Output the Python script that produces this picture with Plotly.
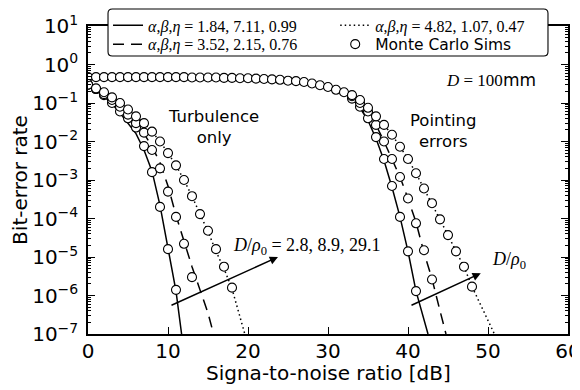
import plotly.graph_objects as go

# ---------------- data ----------------
# Turbulence-only group: Monte Carlo points
turb_mc_x_solid = [0, 1, 2, 3, 4, 5, 6, 7, 8, 9, 10, 11]
turb_mc_solid = [0.30, 0.23, 0.16, 0.10, 0.060, 0.040, 0.023, 0.0076, 0.0016, 2.0e-4, 1.6e-5, 1.4e-6]
turb_mc_x_dashed = [0, 1, 2, 3, 4, 5, 6, 7, 8, 9, 10, 11, 12, 13]
turb_mc_dashed = [0.30, 0.23, 0.17, 0.12, 0.080, 0.050, 0.030, 0.017, 0.006, 0.002, 5.0e-4, 1.1e-4, 2.2e-5, 3.0e-6]
turb_mc_x_dotted = [0, 1, 2, 3, 4, 5, 6, 7, 8, 9, 10, 11, 12, 13, 14, 15, 16, 17, 18]
turb_mc_dotted = [0.30, 0.24, 0.19, 0.14, 0.10, 0.068, 0.045, 0.030, 0.018, 0.010, 0.005, 0.0024,
                  0.0010, 3.8e-4, 1.3e-4, 4.8e-5, 1.6e-5, 5.6e-6, 1.6e-6]

# Turbulence-only group: analytical curves
turb_line_x_solid = [0, 1, 2, 3, 4, 5, 6, 7, 8, 9, 10, 11, 11.7]
turb_line_solid = [0.30, 0.22, 0.15, 0.095, 0.055, 0.030, 0.016, 0.006, 0.0017, 2.2e-4, 1.7e-5, 1.3e-6, 1e-7]
turb_line_x_dashed = [0, 1, 2, 3, 4, 5, 6, 7, 8, 9, 10, 11, 12, 13, 14, 15, 15.7]
turb_line_dashed = [0.30, 0.23, 0.17, 0.12, 0.080, 0.050, 0.030, 0.016, 0.0075, 0.0028, 7.0e-4, 1.2e-4,
                    2.5e-5, 5.6e-6, 1.4e-6, 3.5e-7, 1e-7]
turb_line_x_dotted = [0, 1, 2, 3, 4, 5, 6, 7, 8, 9, 10, 11, 12, 13, 14, 15, 16, 17, 18, 19, 19.6]
turb_line_dotted = [0.30, 0.24, 0.19, 0.14, 0.10, 0.068, 0.045, 0.030, 0.018, 0.010, 0.005, 0.0024,
                    0.0010, 3.8e-4, 1.3e-4, 4.6e-5, 1.4e-5, 5.0e-6, 1.5e-6, 2.5e-7, 1e-7]

# Pointing-error group: shared flat head (all three series coincide)
pe_head_x = list(range(0, 33))
pe_head = [0.47, 0.47, 0.47, 0.47, 0.47, 0.47, 0.47, 0.47, 0.47, 0.47, 0.47, 0.47, 0.47,
           0.46, 0.46, 0.46, 0.46, 0.45, 0.45, 0.44, 0.44, 0.43, 0.42, 0.41, 0.40, 0.38,
           0.37, 0.35, 0.32, 0.29, 0.26, 0.22, 0.19]

# Pointing-error group: Monte Carlo tails
pe_mc_x_solid = [33, 34, 35, 36, 37, 38, 39, 40, 41]
pe_mc_solid = [0.13, 0.080, 0.040, 0.013, 3.5e-3, 7.0e-4, 1.1e-4, 1.4e-5, 1.3e-6]
pe_mc_x_dashed = [33, 34, 35, 36, 37, 38, 39, 40, 41, 42, 43]
pe_mc_dashed = [0.15, 0.10, 0.060, 0.027, 0.010, 3.5e-3, 1.2e-3, 3.3e-4, 7.5e-5, 1.5e-5, 2.6e-6]
pe_mc_x_dotted = [33, 34, 35, 36, 37, 38, 39, 40, 41, 42, 43, 44, 45, 46, 47, 48]
pe_mc_dotted = [0.16, 0.12, 0.075, 0.045, 0.027, 0.015, 7.3e-3, 3.5e-3, 1.5e-3, 6.0e-4, 2.5e-4,
                9.5e-5, 3.7e-5, 1.4e-5, 5.6e-6, 1.7e-6]

# Pointing-error group: analytical tails
pe_line_x_solid = [33, 34, 35, 36, 37, 38, 39, 40, 41, 42, 42.5]
pe_line_solid = [0.13, 0.075, 0.035, 0.012, 3.2e-3, 6.5e-4, 1.1e-4, 1.4e-5, 1.3e-6, 2.2e-7, 1e-7]
pe_line_x_dashed = [33, 34, 35, 36, 37, 38, 39, 40, 41, 42, 43, 44, 44.75]
pe_line_dashed = [0.15, 0.10, 0.060, 0.027, 0.010, 3.5e-3, 1.2e-3, 3.3e-4, 8.0e-5, 1.3e-5, 2.7e-6, 4.0e-7, 1e-7]
pe_line_x_dotted = [33, 34, 35, 36, 37, 38, 39, 40, 41, 42, 43, 44, 45, 46, 47, 48, 49, 50, 50.8]
pe_line_dotted = [0.16, 0.12, 0.075, 0.045, 0.027, 0.015, 7.3e-3, 3.5e-3, 1.5e-3, 6.0e-4, 2.5e-4,
                  9.5e-5, 3.7e-5, 1.4e-5, 5.6e-6, 1.7e-6, 6.3e-7, 2.4e-7, 1e-7]

legend_labels = ["<i>α</i>,<i>β</i>,<i>η</i> = 1.84, 7.11, 0.99",
                 "<i>α</i>,<i>β</i>,<i>η</i> = 4.82, 1.07, 0.47",
                 "<i>α</i>,<i>β</i>,<i>η</i> = 3.52, 2.15, 0.76",
                 "<span style=\"font-family:'DejaVu Sans';font-size:15.5px\">Monte Carlo Sims</span>"]

y_tick_exps = [-7, -6, -5, -4, -3, -2, -1, 0, 1]
x_ticks = [0, 10, 20, 30, 40, 50, 60]
x_title = "Signa-to-noise ratio [dB]"
y_title = "Bit-error rate"

# ---------------- figure ----------------
SANS = "DejaVu Sans"
SERIF = "Liberation Serif"

fig = go.Figure()

line_specs = [
    (turb_line_x_solid, turb_line_solid, pe_line_x_solid, pe_line_solid, "solid", legend_labels[0], "legend"),
    (turb_line_x_dotted, turb_line_dotted, pe_line_x_dotted, pe_line_dotted, "1.5px,3px", legend_labels[1], "legend2"),
    (turb_line_x_dashed, turb_line_dashed, pe_line_x_dashed, pe_line_dashed, "11px,7px", legend_labels[2], "legend3"),
]
for tx, ty, px_, py_, dash, name, leg in line_specs:
    x = list(tx) + [None] + pe_head_x + list(px_)
    y = list(ty) + [None] + pe_head + list(py_)
    fig.add_trace(go.Scatter(x=x, y=y, mode="lines", name=name, legend=leg,
                             line=dict(color="black", width=1.5, dash=dash),
                             connectgaps=False, hoverinfo="skip"))

mc_x = (turb_mc_x_solid + turb_mc_x_dashed + turb_mc_x_dotted + pe_head_x
        + pe_mc_x_solid + pe_mc_x_dashed + pe_mc_x_dotted)
mc_y = (turb_mc_solid + turb_mc_dashed + turb_mc_dotted + pe_head
        + pe_mc_solid + pe_mc_dashed + pe_mc_dotted)
fig.add_trace(go.Scatter(x=mc_x, y=mc_y, mode="markers", name=legend_labels[3], legend="legend4",
                         marker=dict(symbol="circle", size=9, color="white",
                                     line=dict(color="black", width=1.1))))

ann = []


def text(x, y, s, size=17, family=SANS, xanchor="center"):
    ann.append(dict(x=x, y=y, xref="x", yref="y", text=s, showarrow=False,
                    font=dict(family=family, size=size, color="black"),
                    xanchor=xanchor, yanchor="middle"))


text(15.7, -1.63, "Turbulence<br>only", size=16.5)
text(44.4, -1.72, "Pointing<br>errors", size=16.5)
text(56.3, -0.40, "<i>D</i> = 100<span style=\"font-family:'DejaVu Sans'\">mm</span>",
     family=SERIF, xanchor="right")
text(17.9, -4.74, "<i>D</i>/<i>ρ</i><sub>0</sub> = 2.8, 8.9, 29.1", family=SERIF, size=18, xanchor="left")
text(50.2, -5.08, "<i>D</i>/<i>ρ</i><sub>0</sub>", family=SERIF, size=18, xanchor="left")

# x-axis title placed as paper text for exact position
ann.append(dict(x=0.5, y=-0.1266, xref="paper", yref="paper", text=x_title, showarrow=False,
                font=dict(family=SANS, size=20, color="black"), xanchor="center", yanchor="middle"))

# arrows
for (x0, y0, x1, y1) in [(10.25, -6.27, 23.75, -5.0), (40.25, -6.27, 49.1, -5.42)]:
    ann.append(dict(x=x1, y=y1, ax=x0, ay=y0, xref="x", yref="y", axref="x", ayref="y",
                    text="", showarrow=True, arrowhead=2, arrowsize=1.1, arrowwidth=1.5,
                    arrowcolor="black", standoff=0))

minor_vals = []
for e in range(-7, 1):
    for m in range(2, 10):
        minor_vals.append(m * 10 ** e)

# legend frame (rounded box, paper coordinates)
bx0, bx1, by0, by1 = 0.0417, 0.9583, 0.9026, 1.055
rx, ry = 0.009, 0.014
frame_path = (f"M {bx0 + rx},{by1} L {bx1 - rx},{by1} Q {bx1},{by1} {bx1},{by1 - ry} "
              f"L {bx1},{by0 + ry} Q {bx1},{by0} {bx1 - rx},{by0} "
              f"L {bx0 + rx},{by0} Q {bx0},{by0} {bx0},{by0 + ry} "
              f"L {bx0},{by1 - ry} Q {bx0},{by1} {bx0 + rx},{by1} Z")

leg_common = dict(orientation="v", yanchor="top", xanchor="left",
                  bgcolor="rgba(0,0,0,0)", borderwidth=0, tracegroupgap=0, itemwidth=30,
                  font=dict(family=SERIF, size=16, color="black"))
row1_y, row2_y = 1.057, 0.996
col1_x, col2_x = 0.0417, 0.515

# the page body adds an 8px offset, so the figure is sized to the remaining window
fig.update_layout(
    width=572, height=382,
    margin=dict(l=80, r=12, t=18, b=56, autoexpand=False),
    paper_bgcolor="white", plot_bgcolor="white",
    font=dict(family=SANS, size=20, color="black"),
    showlegend=True,
    legend=dict(x=col1_x, y=row1_y, **leg_common),
    legend2=dict(x=col2_x, y=row1_y, **leg_common),
    legend3=dict(x=col1_x, y=row2_y, **leg_common),
    legend4=dict(x=col2_x, y=row2_y, **leg_common),
    shapes=[dict(type="path", path=frame_path, xref="paper", yref="paper",
                 line=dict(color="black", width=1.1), fillcolor="white", layer="above")],
    annotations=ann,
    xaxis=dict(range=[0, 60], tickvals=x_ticks, ticktext=[str(v) for v in x_ticks],
               ticks="inside", ticklen=7, tickwidth=1.2, tickcolor="black",
               showline=True, linecolor="black", linewidth=1.5, mirror="ticks",
               showgrid=False, zeroline=False, ticklabeloverflow="allow",
               tickfont=dict(size=20), ticklabelstandoff=-2),
    yaxis=dict(type="log", range=[-7, 1],
               tickvals=[10 ** e for e in y_tick_exps],
               ticktext=["10<sup>" + (("−" + str(-e)) if e < 0 else str(e)) + "</sup>" for e in y_tick_exps],
               ticks="inside", ticklen=7, tickwidth=1.2, tickcolor="black",
               minor=dict(tickmode="array", tickvals=minor_vals, ticks="inside", ticklen=3.5,
                          tickwidth=1, tickcolor="black", showgrid=False),
               showline=True, linecolor="black", linewidth=1.5, mirror="ticks",
               showgrid=False, zeroline=False,
               title=dict(text=y_title, font=dict(size=20), standoff=4),
               tickfont=dict(size=20), ticklabelstandoff=4),
)

fig.write_html("out.html")
